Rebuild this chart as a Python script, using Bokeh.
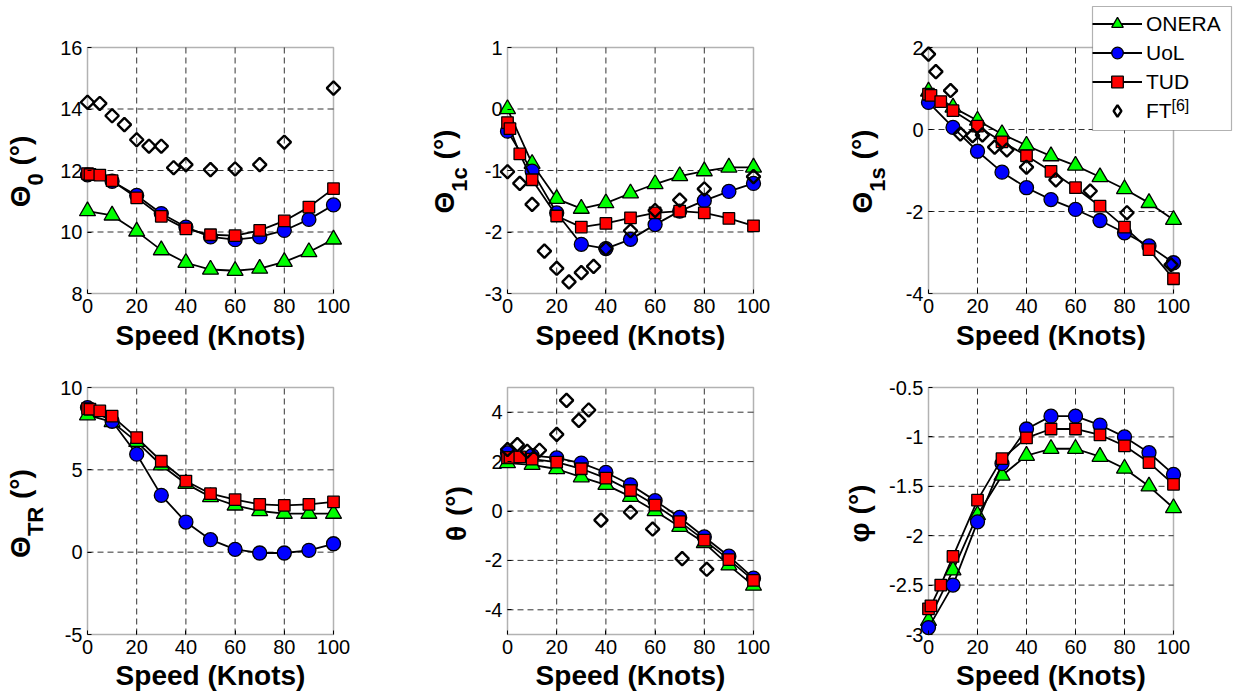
import math
from bokeh.plotting import figure
from bokeh.models import (Range1d, FixedTicker, PrintfTickFormatter, Label, Legend, LegendItem,
                          LinearAxis, BoxAnnotation)
from bokeh.layouts import column, row
from bokeh.embed import file_html
from bokeh.resources import INLINE

# ---------------- data ----------------
speed = [0, 10, 20, 30, 40, 50, 60, 70, 80, 90, 100]
speed_tud = [0, 1, 5, 10, 20, 30, 40, 50, 60, 70, 80, 90, 100]

theta0_onera = [10.68, 10.54, 10.02, 9.41, 9.0, 8.78, 8.74, 8.81, 9.03, 9.35, 9.76]
theta0_uol = [11.86, 11.65, 11.19, 10.6, 10.16, 9.84, 9.75, 9.84, 10.05, 10.41, 10.88]
theta0_tud = [11.9, 11.87, 11.85, 11.67, 11.11, 10.51, 10.1, 9.91, 9.88, 10.05, 10.36, 10.81, 11.41]
theta0_ft_x = [0, 5, 10, 15, 20, 25, 30, 35, 40, 50, 60, 70, 80, 100]
theta0_ft = [14.22, 14.18, 13.78, 13.49, 13.0, 12.79, 12.79, 12.09, 12.19, 12.03, 12.05, 12.19, 12.92, 14.68]

theta1c_onera = [0.0, -0.89, -1.46, -1.62, -1.53, -1.37, -1.22, -1.09, -1.01, -0.95, -0.95]
theta1c_uol = [-0.36, -1.01, -1.69, -2.2, -2.27, -2.12, -1.88, -1.66, -1.49, -1.34, -1.21]
theta1c_tud = [-0.22, -0.32, -0.73, -1.15, -1.74, -1.92, -1.86, -1.77, -1.69, -1.66, -1.69, -1.78, -1.9]
theta1c_ft_x = [0, 5, 10, 15, 20, 25, 30, 35, 40, 50, 60, 70, 80, 100]
theta1c_ft = [-1.02, -1.21, -1.55, -2.31, -2.59, -2.81, -2.66, -2.56, -2.27, -1.98, -1.65, -1.48, -1.3, -1.1]

theta1s_onera = [0.93, 0.54, 0.22, -0.11, -0.39, -0.65, -0.88, -1.16, -1.45, -1.79, -2.2]
theta1s_uol = [0.66, 0.05, -0.53, -1.04, -1.42, -1.71, -1.95, -2.22, -2.52, -2.84, -3.25]
theta1s_tud = [0.86, 0.83, 0.68, 0.46, 0.08, -0.3, -0.64, -1.02, -1.42, -1.87, -2.38, -2.93, -3.64]
theta1s_ft_x = [0, 3, 9, 13, 18, 22, 27, 32, 40, 52, 66, 81, 99]
theta1s_ft = [1.84, 1.41, 0.95, -0.11, -0.15, -0.13, -0.43, -0.5, -0.92, -1.23, -1.5, -2.03, -3.3]

thetatr_onera = [8.32, 7.91, 6.7, 5.28, 4.16, 3.35, 2.84, 2.5, 2.34, 2.34, 2.34]
thetatr_uol = [8.78, 7.95, 5.95, 3.45, 1.83, 0.76, 0.17, -0.05, -0.05, 0.11, 0.51]
thetatr_tud = [8.72, 8.68, 8.58, 8.26, 6.96, 5.52, 4.32, 3.55, 3.19, 2.9, 2.84, 2.9, 3.05]

pitch_onera = [1.94, 1.87, 1.7, 1.37, 1.06, 0.58, 0.0, -0.64, -1.29, -2.2, -3.02]
pitch_uol = [2.35, 2.24, 2.15, 1.94, 1.56, 1.06, 0.42, -0.26, -1.05, -1.83, -2.72]
pitch_tud = [2.15, 2.17, 2.19, 2.1, 1.98, 1.71, 1.33, 0.83, 0.24, -0.43, -1.18, -1.97, -2.81]
pitch_ft_x = [0, 4, 8, 13, 20, 24, 29, 33, 38, 50, 59, 71, 81]
pitch_ft = [2.49, 2.69, 2.42, 2.46, 3.1, 4.48, 3.67, 4.09, -0.37, -0.05, -0.73, -1.93, -2.36]

roll_onera = [-2.86, -2.35, -1.79, -1.39, -1.19, -1.12, -1.12, -1.2, -1.32, -1.5, -1.72]
roll_uol = [-2.93, -2.5, -1.86, -1.27, -0.92, -0.79, -0.79, -0.88, -1.0, -1.16, -1.38]
roll_tud = [-2.74, -2.71, -2.5, -2.21, -1.64, -1.22, -1.01, -0.92, -0.92, -0.98, -1.09, -1.26, -1.48]

x_ticks = [0, 20, 40, 60, 80, 100]
series_names = ["ONERA", "UoL", "TUD", "FT"]
ft_reference = "[6]"
x_title = "Speed (Knots)"

# ---------------- styling / layout ----------------
FONT = "Liberation Sans"
BOLD_W = {"Θ": 0.778, "θ": 0.611, "φ": 0.72, "0": 0.556, "1": 0.556, "c": 0.556,
          "s": 0.556, "T": 0.611, "R": 0.722, " ": 0.278, "(": 0.333, "°": 0.4, ")": 0.333}
BASE_CORR = 0.45  # bokeh's alphabetic anchor sits this fraction of the size off the baseline


def text_len(t, size):
    return sum(BOLD_W.get(ch, 0.6) for ch in t) * size


# y titles: pieces (text, size, baseline shift, gap after)
panels = [
    dict(on=theta0_onera, uo=theta0_uol, tu=theta0_tud, ftx=theta0_ft_x, ft=theta0_ft,
         yr=(8, 16), yt=[8, 10, 12, 14, 16],
         lab=[("Θ", 28, 0, 0), ("0", 22, 12, 7.8), ("(°)", 28, 0, 0)], lbx=33),
    dict(on=theta1c_onera, uo=theta1c_uol, tu=theta1c_tud, ftx=theta1c_ft_x, ft=theta1c_ft,
         yr=(-3, 1), yt=[-3, -2, -1, 0, 1],
         lab=[("Θ", 28, 0, 0), ("1c", 22, 12, 7.8), ("(°)", 28, 0, 0)], lbx=457),
    dict(on=theta1s_onera, uo=theta1s_uol, tu=theta1s_tud, ftx=theta1s_ft_x, ft=theta1s_ft,
         yr=(-4, 2), yt=[-4, -2, 0, 2],
         lab=[("Θ", 28, 0, 0), ("1s", 22, 12, 7.8), ("(°)", 28, 0, 0)], lbx=875),
    dict(on=thetatr_onera, uo=thetatr_uol, tu=thetatr_tud, ftx=None, ft=None,
         yr=(-5, 10), yt=[-5, 0, 5, 10],
         lab=[("Θ", 28, 0, 0), ("TR", 22, 12, 7.8), ("(°)", 28, 0, 0)], lbx=33),
    dict(on=pitch_onera, uo=pitch_uol, tu=pitch_tud, ftx=pitch_ft_x, ft=pitch_ft,
         yr=(-5, 5), yt=[-4, -2, 0, 2, 4],
         lab=[("θ", 28, 0, 7.8), ("(°)", 28, 0, 0)], lbx=469),
    dict(on=roll_onera, uo=roll_uol, tu=roll_tud, ftx=None, ft=None,
         yr=(-3, -0.5), yt=[-3, -2.5, -2, -1.5, -1, -0.5],
         lab=[("φ", 28, 0, 7.8), ("(°)", 28, 0, 0)], lbx=872),
]

# cells (page px) and axes boxes (page px)
cols = [(0, 420), (420, 420), (840, 393)]
rows = [(0, 350), (350, 344)]
box_x = [(87, 333), (507, 753), (928, 1173)]
box_y = [(47, 293), (387, 634)]
xtitle_base = [348, 688]
ytitle_center = [171, 513]

figs = []
maps = []
p3_renderers = None
for i, pn in enumerate(panels):
    r, c = divmod(i, 3)
    cx, W = cols[c]
    cy, H = rows[r]
    L, R = box_x[c]
    T, B = box_y[r]
    ymin, ymax = pn["yr"]
    l, rr_ = L - cx, R - cx
    t, b = T - cy, B - cy
    ppx = 100.0 / (rr_ - l)
    ppy = (ymax - ymin) / (b - t)
    xs, xe = 0 - l * ppx, 100 + (W - rr_) * ppx
    ys, ye = ymin - (H - b) * ppy, ymax + t * ppy
    maps.append((cx, cy, W, H, xs, xe, ys, ye))

    p = figure(width=W, height=H, x_range=Range1d(xs, xe), y_range=Range1d(ys, ye), title=None,
               x_axis_type=None, y_axis_type=None,
               output_backend="svg", toolbar_location=None, tools="",
               min_border_left=0, min_border_right=0, min_border_top=0, min_border_bottom=0,
               background_fill_color="white", border_fill_color="white")
    p.outline_line_color = None

    xaxis = LinearAxis(ticker=FixedTicker(ticks=x_ticks), fixed_location=ymin, bounds=(0, 100))
    yaxis = LinearAxis(ticker=FixedTicker(ticks=pn["yt"]), fixed_location=0, bounds=(ymin, ymax),
                       formatter=PrintfTickFormatter(format="%g"))
    for ax in (xaxis, yaxis):
        ax.axis_line_color = None
        ax.major_tick_in = 4
        ax.major_tick_out = 0
        ax.major_tick_line_color = "black"
        ax.minor_tick_line_color = None
        ax.major_label_text_font = FONT
        ax.major_label_text_font_size = "20px"
        ax.major_label_text_color = "black"
        ax.major_label_standoff = 5
    p.add_layout(xaxis, "below")
    p.add_layout(yaxis, "left")

    # axes box
    p.add_layout(BoxAnnotation(left=0, right=100, bottom=ymin, top=ymax, fill_color=None,
                               line_color="black", line_width=1.5, level="underlay"))
    # dashed grid at the interior ticks
    xg = [v for v in x_ticks if 0 < v < 100]
    yg = [v for v in pn["yt"] if ymin < v < ymax]
    grid_style = dict(line_color="black", line_alpha=0.8, line_dash="6 4", line_width=1)
    p.segment(x0=xg, y0=[ymin] * len(xg), x1=xg, y1=[ymax] * len(xg), **grid_style)
    p.segment(x0=[0] * len(yg), y0=yg, x1=[100] * len(yg), y1=yg, **grid_style)

    l1 = p.line(speed, pn["on"], line_color="black", line_width=1.8)
    s1 = p.scatter(speed, pn["on"], marker="triangle", size=16, fill_color="#00ff00",
                   line_color="black", line_width=1.3)
    l2 = p.line(speed, pn["uo"], line_color="black", line_width=1.8)
    s2 = p.scatter(speed, pn["uo"], marker="circle", size=14, fill_color="#0000ff",
                   line_color="black", line_width=1.3)
    l3 = p.line(speed_tud, pn["tu"], line_color="black", line_width=1.8)
    s3 = p.scatter(speed_tud, pn["tu"], marker="square", size=11.5, fill_color="#ff0000",
                   line_color="black", line_width=1.3)
    if pn["ft"] is not None:
        p.scatter(pn["ftx"], pn["ft"], marker="square", angle=math.pi / 4, size=9.5,
                  fill_color=None, line_color="black", line_width=2.4)
    if i == 2:
        p3_renderers = [[l1, s1], [l2, s2], [l3, s3]]

    # x title
    p.add_layout(Label(x=(L + R) / 2 - cx, y=(cy + H) - xtitle_base[r] + BASE_CORR * 28,
                       x_units="screen", y_units="screen", text=x_title,
                       text_font=FONT, text_font_size="28px", text_font_style="bold",
                       text_align="center", text_baseline="alphabetic", text_color="black",
                       level="overlay"))
    # rotated y title built from pieces (with subscripts)
    total = sum(text_len(tx, s) + g for tx, s, _, g in pn["lab"])
    pos = (cy + H) - (ytitle_center[r] + total / 2)
    for tx, s, shift, gap in pn["lab"]:
        p.add_layout(Label(x=pn["lbx"] - cx + shift - BASE_CORR * s, y=pos,
                           x_units="screen", y_units="screen",
                           text=tx, angle=math.pi / 2, text_font=FONT,
                           text_font_size=f"{s}px", text_font_style="bold",
                           text_align="left", text_baseline="alphabetic", text_color="black",
                           level="overlay"))
        pos += text_len(tx, s) + gap
    figs.append(p)

# legend in panel 3 (its frame covers the legend area)
p3 = figs[2]
cx3, cy3, W3, H3, xs3, xe3, ys3, ye3 = maps[2]


def page_to_data3(px, py):
    return (xs3 + (px - cx3) * (xe3 - xs3) / W3, ye3 - (py - cy3) * (ye3 - ys3) / H3)


leg_l, leg_t, leg_r, leg_b = 1092, 6, 1231, 130
(bx0, by1), (bx1, by0) = page_to_data3(leg_l, leg_t), page_to_data3(leg_r, leg_b)
p3.add_layout(BoxAnnotation(left=bx0, right=bx1, bottom=by0, top=by1, fill_color="white",
                            fill_alpha=1.0, line_color="black", line_width=1.2))

ft_key = p3.scatter(x=[float("nan")], y=[float("nan")], marker="diamond", fill_color=None,
                    line_color="black", line_width=2.4)
items = [LegendItem(label=n, renderers=rr) for n, rr in zip(series_names, p3_renderers + [[ft_key]])]
legend = Legend(items=items, location=(leg_l - cx3, (cy3 + H3) - leg_b + 5),
                orientation="vertical", padding=4, spacing=0, glyph_width=50, glyph_height=29,
                label_height=29, label_standoff=4, label_text_font=FONT,
                label_text_font_size="21px", label_text_color="black",
                border_line_color=None, background_fill_alpha=0.0, margin=0)
p3.add_layout(legend)
p3.add_layout(Label(x=1171 - cx3, y=(cy3 + H3) - 112 + BASE_CORR * 16, x_units="screen",
                    y_units="screen", text=ft_reference, text_font=FONT, text_font_size="16px",
                    text_align="left", text_baseline="alphabetic", text_color="black",
                    level="overlay"))

layout = column(row(figs[0], figs[1], figs[2]), row(figs[3], figs[4], figs[5]))
open("out.html", "w").write(file_html(layout, INLINE))
